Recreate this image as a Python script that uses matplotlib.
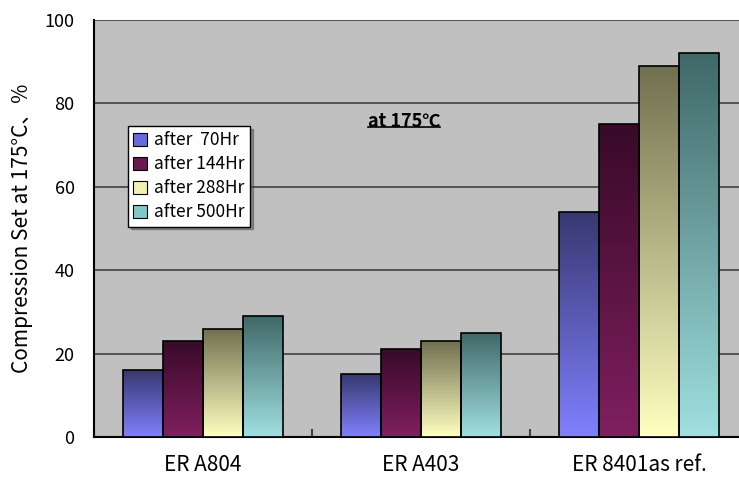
import numpy as np
import matplotlib
matplotlib.use("Agg")
import matplotlib.pyplot as plt
from matplotlib.patches import Patch
from matplotlib.colors import LinearSegmentedColormap
from matplotlib.lines import Line2D

plt.rcParams['font.family'] = ['Noto Sans CJK JP', 'DejaVu Sans']

categories = ["ER A804", "ER A403", "ER 8401as ref."]
series_names = ["after  70Hr", "after 144Hr", "after 288Hr", "after 500Hr"]
values = {
    "after  70Hr": [16, 15, 54],
    "after 144Hr": [23, 21, 75],
    "after 288Hr": [26, 23, 89],
    "after 500Hr": [29, 25, 92],
}
# (top colour, bottom colour) for each series gradient
grad_top = ["#383870", "#380a28", "#707050", "#406868"]
grad_bot = ["#8080ff", "#801f60", "#ffffc0", "#a0e0e0"]
legend_cols = ["#6a6ae0", "#6a1850", "#f0f0b0", "#80c8c8"]
yticks = [0, 20, 40, 60, 80, 100]

fig = plt.figure(figsize=(7.39, 4.84), dpi=100)
W, H = 739, 484
ax = fig.add_axes([94 / W, 47 / H, (748 - 94) / W, 417 / H])
ax.set_facecolor("#c0c0c0")

n = len(series_names)
bw = 40 / 218
x = np.arange(len(categories))
for i, name in enumerate(series_names):
    offs = (i - (n - 1) / 2) * bw
    bars = ax.bar(x + offs, values[name], width=bw, facecolor="none",
                  edgecolor="black", linewidth=1.2, zorder=4)
    cmap = LinearSegmentedColormap.from_list("g%d" % i, [grad_bot[i], grad_top[i]])
    grad = np.linspace(0, 1, 256).reshape(-1, 1)
    for b in bars:
        x0, y0 = b.get_x(), b.get_y()
        w, h = b.get_width(), b.get_height()
        im = ax.imshow(grad, cmap=cmap, origin="lower", aspect="auto",
                       extent=[x0, x0 + w, y0, y0 + h], zorder=3,
                       interpolation="bilinear")
        im.set_clip_path(b)

ax.set_xlim(-0.5, len(categories) - 0.5)
ax.set_ylim(0, 100)
ax.set_yticks(yticks)
ax.set_yticklabels([str(t) for t in yticks], fontsize=13)
ax.tick_params(axis="y", length=0, pad=14)
ax.yaxis.grid(True, color="#404040", linewidth=1.2, zorder=1)
ax.set_axisbelow(True)

ax.set_xticks(x)
ax.set_xticklabels(categories, fontsize=15)
ax.tick_params(axis="x", length=0, pad=12)
ax.set_xticks(np.arange(len(categories) + 1) - 0.5, minor=True)
ax.tick_params(axis="x", which="minor", direction="in", length=6, width=1.5, color="#404040")

for s in ["left", "bottom"]:
    ax.spines[s].set_color("black")
    ax.spines[s].set_linewidth(1.5)
ax.spines["top"].set_visible(False)
ax.spines["right"].set_visible(False)

ax.set_ylabel("Compression Set at 175°C、%", fontsize=15, labelpad=8)

title = ax.text((404 - 94) / 654, (437 - 121) / 417, "at 175℃", transform=ax.transAxes,
                fontsize=13, fontweight="bold", ha="center", va="center", zorder=6)

handles = [Patch(facecolor=legend_cols[i], edgecolor="black", linewidth=0.8)
           for i in range(n)]
leg = ax.legend(handles, series_names, loc="upper left",
                bbox_to_anchor=((128 - 94) / 654, (437 - 126) / 417),
                fontsize=12.5, frameon=True, fancybox=False, shadow=True,
                handlelength=0.8, handleheight=0.8, handletextpad=0.4,
                borderpad=0.3, labelspacing=0.35, borderaxespad=0)
leg.get_frame().set_edgecolor("black")
leg.get_frame().set_linewidth(1.0)
leg.set_zorder(10)

# underline beneath the whole annotation text
fig.canvas.draw()
bb = title.get_window_extent().transformed(fig.transFigure.inverted())
uy = bb.y0 + 0.2 * (bb.y1 - bb.y0)
fig.add_artist(Line2D([bb.x0, bb.x1], [uy, uy], transform=fig.transFigure,
                      color="black", linewidth=1.2, zorder=7))

fig.savefig("out.png", dpi=100)
